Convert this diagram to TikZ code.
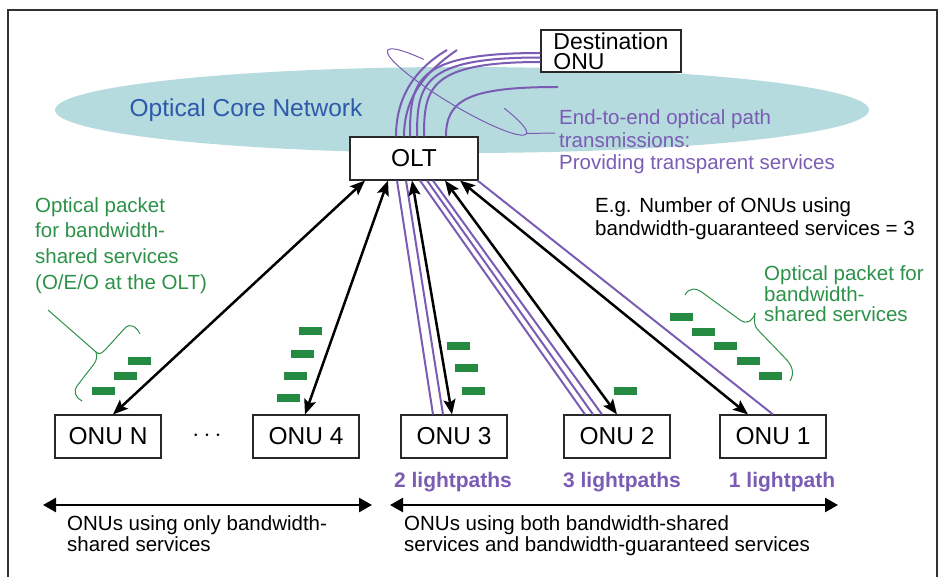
\documentclass[tikz,border=0pt]{standalone}
\usepackage{fontspec}
\setmainfont{Liberation Sans}
\usetikzlibrary{arrows.meta}
\definecolor{corefill}{RGB}{181,219,222}
\definecolor{coreblue}{RGB}{45,90,170}
\definecolor{lpurple}{RGB}{122,92,180}
\definecolor{tgreen}{RGB}{44,146,72}
\definecolor{pgreen}{RGB}{36,138,66}
\definecolor{framec}{RGB}{50,50,50}
\definecolor{boxc}{RGB}{40,40,40}
\tikzset{
  box/.style={draw=boxc, line width=1.1pt, fill=white, minimum height=43pt, inner sep=0pt,
              font=\fontsize{24.5}{26}\selectfont},
  onu/.style={box, minimum width=106pt},
  txt/.style={inner sep=0pt, anchor=base west, align=left, font=\fontsize{20.5}{22.5}\selectfont},
  lpl/.style={inner sep=0pt, anchor=base, text=lpurple, font=\fontsize{21}{22}\selectfont\bfseries},
  bi/.style={line width=2.5pt, {Stealth[length=15pt,width=12pt,inset=3pt]}-{Stealth[length=15pt,width=12pt,inset=3pt]}},
  hbar/.style={line width=2.5pt, {Triangle[length=13pt,width=14pt]}-{Triangle[length=13pt,width=14pt]}},
  lp/.style={draw=lpurple, line width=2pt},
  callout/.style={draw=lpurple, line width=1pt},
  brace/.style={draw=tgreen, line width=1pt},
  pkt/.style={fill=pgreen},
  frame/.style={draw=framec, line width=2pt}
}
\begin{document}
\begin{tikzpicture}[x=1pt,y=-1pt]
\useasboundingbox (0,0) rectangle (942,577);
% frame
\draw[frame] (8,577) -- (8,10.5) -- (936.5,10.5) -- (936.5,577);
% core network
\fill[corefill] (462,110) ellipse [x radius=407pt, y radius=43pt];
\node[inner sep=0pt, text=coreblue, font=\fontsize{24.5}{26}\selectfont] (coretxt) at (246,110) {Optical Core Network};

% nodes
\node[box, minimum width=128pt] (olt) at (414,158.5) {OLT};
\node[box, minimum width=140pt, minimum height=42pt, align=left,
      font=\fontsize{23}{20}\selectfont] (dest) at (611,51) {Destination\\ONU};
\node[onu] (onuN) at (108,436.5) {ONU N};
\node[onu] (onu4) at (306,436.5) {ONU 4};
\node[onu] (onu3) at (454,436.5) {ONU 3};
\node[onu] (onu2) at (617,436.5) {ONU 2};
\node[onu] (onu1) at (773,436.5) {ONU 1};
\node[inner sep=0pt, font=\fontsize{30}{30}\selectfont] (dots) at (207,436) {$\cdots$};

% free ends
\coordinate (pa) at (447,50);
\coordinate (pb) at (457,50);
\coordinate (pc) at (558,87);

% lightpaths above OLT
\draw[lp] ([xshift=-18pt]olt.north) .. controls (396,92) and (420,66) .. (pa);
\draw[lp] ([xshift=-10pt]olt.north) .. controls (404,95) and (428,70) .. (pb);
\draw[lp] ([xshift=-4pt]olt.north) .. controls (410,80) and (415,53) .. ([yshift=-2pt]dest.west);
\draw[lp] ([xshift=3pt]olt.north) .. controls (417,84) and (422,57.5) .. ([yshift=-6.5pt]dest.west);
\draw[lp] ([xshift=10pt]olt.north) .. controls (424,88) and (429,62) .. ([yshift=-11pt]dest.west);
\draw[lp] ([xshift=32pt]olt.north) .. controls (446,100) and (468,87) .. (pc);

% lightpaths below OLT
\draw[lp] ([xshift=-17pt]olt.south) -- ([xshift=-21pt]onu3.north);
\draw[lp] ([xshift=-8pt]olt.south) -- ([xshift=-11pt]onu3.north);
\draw[lp] ([xshift=6pt]olt.south) -- ([xshift=-32pt]onu2.north);
\draw[lp] ([xshift=13pt]olt.south) -- ([xshift=-24pt]onu2.north);
\draw[lp] ([xshift=19pt]olt.south) -- ([xshift=-15pt]onu2.north);
\draw[lp] ([xshift=-1pt]olt.south east) -- (onu1.north);

% black arrows
\draw[bi] ([xshift=-49pt]olt.south) -- ([xshift=5pt]onuN.north);
\draw[bi] ([xshift=-26pt]olt.south) -- ([xshift=-1pt]onu4.north);
\draw[bi] ([xshift=-2pt]olt.south) -- ([xshift=-2pt]onu3.north);
\draw[bi] ([xshift=31pt]olt.south) -- (onu2.north);
\draw[bi] ([xshift=46pt]olt.south) -- ([xshift=-25pt]onu1.north);

% callout for end-to-end paths
\begin{scope}[shift={(457,92)}, rotate=-31]
  \draw[callout] (124:81pt and 13pt) arc[start angle=124, end angle=413, x radius=81pt, y radius=13pt];
\end{scope}
\coordinate (ctip) at (526.5,133.5);
\coordinate (cend) at (555,133);
\draw[callout] (ctip) -- (cend);
% (anchor base = baseline of the last line)
\node[txt, text=lpurple] (e2e) at (559,170) {End-to-end optical path\\transmissions:\\Providing transparent services};

\node[txt, font=\fontsize{20.5}{23}\selectfont] (eg) at (595,236) {E.g. Number of ONUs using\\bandwidth-guaranteed services = 3};

% green texts
\node[txt, text=tgreen, font=\fontsize{20.5}{25.8}\selectfont] (gl) at (35,289.4)
  {Optical packet\\for bandwidth-\\shared services\\(O/E/O at the OLT)};
\node[txt, text=tgreen, font=\fontsize{20.5}{20.5}\selectfont] (gr) at (764,321.7)
  {Optical packet for\\bandwidth-\\shared services};

% braces
\draw[brace] (48,310) -- (96,352);
\draw[brace] (96,352) .. controls (99,355) and (102,353) .. (105,350) -- (125,328)
  .. controls (130,323) and (136,326) .. (140,334);
\draw[brace] (96,352) .. controls (97,356) and (97,360) .. (94,364) -- (77,386)
  .. controls (73,392) and (76,398) .. (82,401);
\draw[brace] (685,295) .. controls (689,287) and (697,288) .. (703,293) -- (740,320)
  .. controls (747,325) and (753,321) .. (755,313);
\draw[brace] (755,313) .. controls (754,321) and (754,326) .. (758,330) -- (785,358)
  .. controls (792,365) and (795,373) .. (790,381);

% packets
\foreach \x/\y in {128/357, 114/372, 92/387,
                   299/327, 291/350, 284/372, 277/394,
                   447/342, 455/364, 462/387,
                   614/387,
                   670/313, 692/328, 714/342, 737/357, 759/372}
  \fill[pkt] (\x,\y) rectangle ++(23,8);

% lightpath counts
\node[lpl] (l3) at (453,487.7) {2 lightpaths};
\node[lpl] (l2) at (622,487.7) {3 lightpaths};
\node[lpl] (l1) at (782,487.7) {1 lightpath};

% bottom range arrows
\coordinate (la) at (43,505);
\coordinate (lb) at (372,505);
\coordinate (ra) at (390,505);
\coordinate (rb) at (838,505);
\draw[hbar] (la) -- (lb);
\draw[hbar] (ra) -- (rb);
\node[txt, font=\fontsize{20.5}{21}\selectfont] (bl) at (67,551) {ONUs using only bandwidth-\\shared services};
\node[txt, font=\fontsize{20.5}{21}\selectfont] (br) at (404,551) {ONUs using both bandwidth-shared\\services and bandwidth-guaranteed services};
\end{tikzpicture}
\end{document}
